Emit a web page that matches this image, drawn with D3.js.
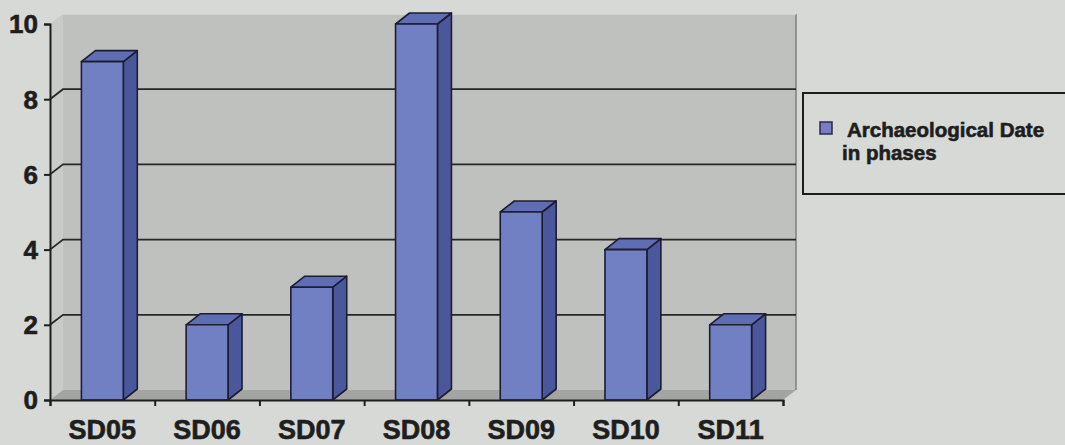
<!DOCTYPE html>
<html>
<head>
<meta charset="utf-8">
<script src="https://cdn.jsdelivr.net/npm/d3@7"></script>
<style>
  html, body { margin: 0; padding: 0; background: #d6d9d6; }
  svg { display: block; }
  text { font-family: "Liberation Sans", Arial, sans-serif; font-weight: bold; fill: #1e1e1e; stroke: #1e1e1e; stroke-width: 0.6px; }
</style>
</head>
<body>
<svg id="chart" width="1065" height="445"></svg>
<script>
// Dating samples and their archaeological date, counted in phases
const categories = ["SD05", "SD06", "SD07", "SD08", "SD09", "SD10", "SD11"];
const phases = [9, 2, 3, 10, 5, 4, 2];
const yTicks = [0, 2, 4, 6, 8, 10];
const legendLines = ["Archaeological Date", "in phases"];

(function draw() {
  const svg = d3.select("#chart");

  // Front plane of the 3-D box and the depth offset toward the back wall
  const plotLeft = 50, plotRight = 783, plotBottom = 400, plotTop = 24;
  const depth = { dx: 13, dy: -10 };

  const x = d3.scaleBand().domain(categories).range([plotLeft, plotRight])
    .paddingInner(0.6).paddingOuter(0.3);
  const y = d3.scaleLinear().domain([0, 10]).range([plotBottom, plotTop]);
  const edge = d3.scaleLinear().domain([0, categories.length]).range([plotLeft, plotRight]);

  const poly = pts => pts.map(p => p.join(",")).join(" ");

  // Side wall (left)
  svg.append("polygon")
    .attr("points", poly([[plotLeft, y(0)], [plotLeft, y(10)], [plotLeft + depth.dx, y(10) + depth.dy], [plotLeft + depth.dx, y(0) + depth.dy]]))
    .attr("fill", "#c9cbc9");

  // Back wall
  svg.append("rect")
    .attr("x", plotLeft + depth.dx).attr("y", y(10) + depth.dy)
    .attr("width", plotRight - plotLeft).attr("height", y(0) - y(10))
    .attr("fill", "#bfc1bf");
  svg.append("line")
    .attr("x1", plotRight + depth.dx).attr("x2", plotRight + depth.dx)
    .attr("y1", y(10) + depth.dy).attr("y2", y(0) + depth.dy)
    .attr("stroke", "#7d7f7d").attr("stroke-width", 1.5);
  svg.append("line")
    .attr("x1", plotLeft + depth.dx).attr("x2", plotRight + depth.dx)
    .attr("y1", y(10) + depth.dy).attr("y2", y(10) + depth.dy)
    .attr("stroke", "#d8dad8").attr("stroke-width", 1.5);

  // Floor
  svg.append("polygon")
    .attr("points", poly([[plotLeft, y(0)], [plotRight, y(0)], [plotRight + depth.dx, y(0) + depth.dy], [plotLeft + depth.dx, y(0) + depth.dy]]))
    .attr("fill", "#a3a5a3");

  // Gridlines: diagonal on the side wall, then across the back wall
  const grid = svg.append("g").attr("stroke", "#262626").attr("stroke-width", 1.8).attr("fill", "none");
  yTicks.filter(v => v > 0 && v < 10).forEach(v => {
    grid.append("polyline")
      .attr("points", poly([[plotLeft, y(v)], [plotLeft + depth.dx, y(v) + depth.dy], [plotRight + depth.dx, y(v) + depth.dy]]));
  });

  // 3-D columns
  const bars = svg.append("g").selectAll("g").data(categories).join("g")
    .attr("stroke", "#1c1c34").attr("stroke-width", 1.6).attr("stroke-linejoin", "round");
  bars.each(function (c, i) {
    const g = d3.select(this);
    const x0 = x(c), x1 = x(c) + x.bandwidth();
    const yt = y(phases[i]), yb = y(0);
    const dx = depth.dx + 1, dy = depth.dy - 1;
    g.append("polygon").attr("fill", "#4b579b")
      .attr("points", poly([[x1, yb], [x1, yt], [x1 + dx, yt + dy], [x1 + dx, yb + dy]]));
    g.append("polygon").attr("fill", "#5f6db3")
      .attr("points", poly([[x0, yt], [x0 + dx, yt + dy], [x1 + dx, yt + dy], [x1, yt]]));
    g.append("rect").attr("fill", "#7180c2")
      .attr("x", x0).attr("y", yt).attr("width", x1 - x0).attr("height", yb - yt);
  });

  // Value axis
  const yAxis = svg.append("g").attr("transform", `translate(${plotLeft},0)`)
    .call(d3.axisLeft(y).tickValues(yTicks).tickFormat(d3.format("d")).tickSize(6).tickPadding(6));
  yAxis.select(".domain").attr("stroke", "#1e1e1e").attr("stroke-width", 2);
  yAxis.selectAll(".tick line").attr("stroke", "#1e1e1e").attr("stroke-width", 2);
  yAxis.selectAll("text").style("font-size", "26px").attr("dy", "0.34em");

  // Category axis: ticks at the category edges, labels centred on columns
  const xEdges = svg.append("g").attr("transform", `translate(0,${plotBottom})`)
    .call(d3.axisBottom(edge).tickValues(d3.range(categories.length + 1)).tickSize(6).tickFormat(""));
  xEdges.select(".domain").attr("stroke", "#1e1e1e").attr("stroke-width", 2);
  xEdges.selectAll(".tick line").attr("stroke", "#1e1e1e").attr("stroke-width", 2);

  const xLabels = svg.append("g").attr("transform", `translate(0,${plotBottom})`)
    .call(d3.axisBottom(x).tickSize(0).tickPadding(0));
  xLabels.select(".domain").remove();
  xLabels.selectAll("text").style("font-size", "27px").attr("y", 39).attr("dy", null);

  // Legend
  const legend = svg.append("g");
  legend.append("rect").attr("x", 803).attr("y", 93).attr("width", 280).attr("height", 101)
    .attr("fill", "none").attr("stroke", "#1e1e1e").attr("stroke-width", 2);
  legend.append("rect").attr("x", 820).attr("y", 122).attr("width", 12).attr("height", 12)
    .attr("fill", "#7a7cc4").attr("stroke", "#2a2a48").attr("stroke-width", 1.5);
  legend.append("text").attr("x", 847).attr("y", 137).style("font-size", "20.5px").text(legendLines[0]);
  legend.append("text").attr("x", 842).attr("y", 160).style("font-size", "20.5px").text(legendLines[1]);
})();
</script>
</body>
</html>
